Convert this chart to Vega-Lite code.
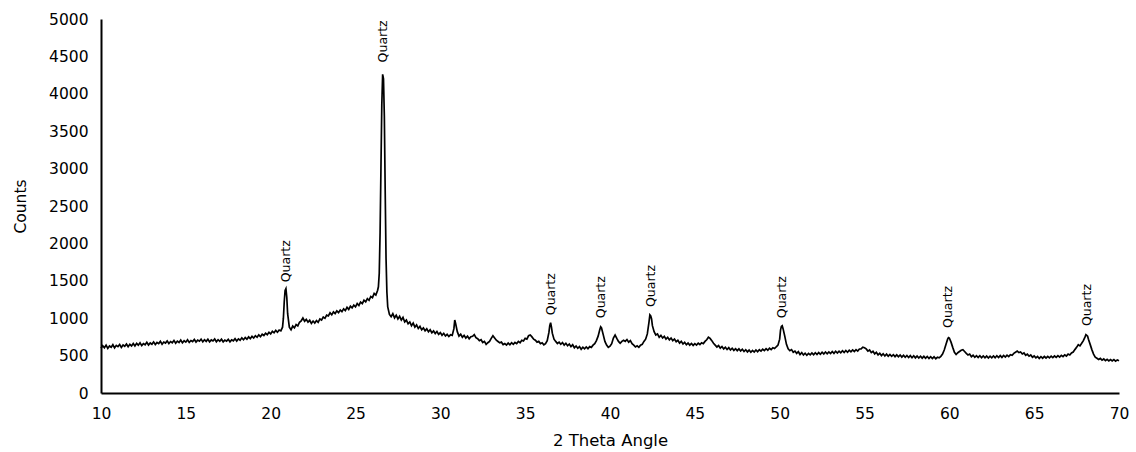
{
"$schema":"https://vega.github.io/schema/vega-lite/v6.json",
"width":1018,"height":374,
"autosize":{"type":"none"},
"padding":{"left":101,"top":19,"right":17,"bottom":59},
"background":"white",
"config":{"view":{"stroke":null},"font":"DejaVu Sans",
"axis":{"labelOverlap":false,"format":"d","grid":false,"ticks":false,"domainColor":"black","domainWidth":2,"labelFont":"DejaVu Sans","labelFontSize":15.5,"labelColor":"black","labelPadding":13,"titleFont":"DejaVu Sans","titleFontWeight":"normal","titleColor":"black","labelFlush":false},
"axisX":{"titleFontSize":16.5,"titlePadding":11},
"axisY":{"titleFontSize":15.5,"titlePadding":20}},
"datasets":{
"xrd":[
{"t":10.0,"c":598},{"t":10.1,"c":632},{"t":10.2,"c":605},{"t":10.3,"c":640},{"t":10.4,"c":596},{"t":10.5,"c":628},{"t":10.6,"c":611},{"t":10.7,"c":645},{"t":10.8,"c":603},{"t":10.9,"c":637},
{"t":11.0,"c":620},{"t":11.1,"c":648},{"t":11.2,"c":609},{"t":11.3,"c":641},{"t":11.4,"c":625},{"t":11.5,"c":655},{"t":11.6,"c":618},{"t":11.7,"c":650},{"t":11.8,"c":630},{"t":11.9,"c":662},
{"t":12.0,"c":628},{"t":12.1,"c":664},{"t":12.2,"c":640},{"t":12.3,"c":671},{"t":12.4,"c":633},{"t":12.5,"c":660},{"t":12.6,"c":645},{"t":12.7,"c":678},{"t":12.8,"c":641},{"t":12.9,"c":669},
{"t":13.0,"c":652},{"t":13.1,"c":683},{"t":13.2,"c":648},{"t":13.3,"c":676},{"t":13.4,"c":660},{"t":13.5,"c":690},{"t":13.6,"c":652},{"t":13.7,"c":681},{"t":13.8,"c":668},{"t":13.9,"c":697},
{"t":14.0,"c":662},{"t":14.1,"c":688},{"t":14.2,"c":672},{"t":14.3,"c":703},{"t":14.4,"c":665},{"t":14.5,"c":694},{"t":14.6,"c":676},{"t":14.7,"c":708},{"t":14.8,"c":670},{"t":14.9,"c":698},
{"t":15.0,"c":680},{"t":15.1,"c":711},{"t":15.2,"c":676},{"t":15.3,"c":702},{"t":15.4,"c":688},{"t":15.5,"c":716},{"t":15.6,"c":681},{"t":15.7,"c":707},{"t":15.8,"c":692},{"t":15.9,"c":720},
{"t":16.0,"c":684},{"t":16.1,"c":712},{"t":16.2,"c":690},{"t":16.3,"c":718},{"t":16.4,"c":683},{"t":16.5,"c":709},{"t":16.6,"c":695},{"t":16.7,"c":722},{"t":16.8,"c":686},{"t":16.9,"c":713},
{"t":17.0,"c":691},{"t":17.1,"c":719},{"t":17.2,"c":684},{"t":17.3,"c":708},{"t":17.4,"c":693},{"t":17.5,"c":717},{"t":17.6,"c":685},{"t":17.7,"c":711},{"t":17.8,"c":698},{"t":17.9,"c":726},
{"t":18.0,"c":695},{"t":18.1,"c":724},{"t":18.2,"c":706},{"t":18.3,"c":737},{"t":18.4,"c":712},{"t":18.5,"c":741},{"t":18.6,"c":719},{"t":18.7,"c":750},{"t":18.8,"c":726},{"t":18.9,"c":758},
{"t":19.0,"c":735},{"t":19.1,"c":766},{"t":19.2,"c":745},{"t":19.3,"c":777},{"t":19.4,"c":752},{"t":19.5,"c":785},{"t":19.6,"c":768},{"t":19.7,"c":800},{"t":19.8,"c":779},{"t":19.9,"c":812},
{"t":20.0,"c":790},{"t":20.1,"c":824},{"t":20.2,"c":805},{"t":20.3,"c":838},{"t":20.4,"c":812},{"t":20.5,"c":841},{"t":20.6,"c":830},{"t":20.7,"c":880},{"t":20.75,"c":1000},{"t":20.8,"c":1220},{"t":20.85,"c":1370},{"t":20.9,"c":1395},{"t":20.95,"c":1280},
{"t":21.0,"c":1060},{"t":21.1,"c":880},{"t":21.2,"c":845},{"t":21.3,"c":895},{"t":21.4,"c":872},{"t":21.5,"c":915},{"t":21.6,"c":898},{"t":21.7,"c":946},{"t":21.8,"c":965},{"t":21.9,"c":1002},
{"t":22.0,"c":960},{"t":22.1,"c":985},{"t":22.2,"c":948},{"t":22.3,"c":972},{"t":22.4,"c":930},{"t":22.5,"c":962},{"t":22.6,"c":935},{"t":22.7,"c":968},{"t":22.8,"c":945},{"t":22.9,"c":990},
{"t":23.0,"c":975},{"t":23.1,"c":1015},{"t":23.2,"c":998},{"t":23.3,"c":1040},{"t":23.4,"c":1030},{"t":23.5,"c":1072},{"t":23.6,"c":1045},{"t":23.7,"c":1085},{"t":23.8,"c":1062},{"t":23.9,"c":1098},
{"t":24.0,"c":1075},{"t":24.1,"c":1110},{"t":24.2,"c":1088},{"t":24.3,"c":1125},{"t":24.4,"c":1102},{"t":24.5,"c":1145},{"t":24.6,"c":1118},{"t":24.7,"c":1160},{"t":24.8,"c":1138},{"t":24.9,"c":1175},
{"t":25.0,"c":1152},{"t":25.1,"c":1196},{"t":25.2,"c":1170},{"t":25.3,"c":1215},{"t":25.4,"c":1195},{"t":25.5,"c":1240},{"t":25.6,"c":1218},{"t":25.7,"c":1262},{"t":25.8,"c":1240},{"t":25.9,"c":1290},
{"t":26.0,"c":1275},{"t":26.1,"c":1330},{"t":26.2,"c":1310},{"t":26.3,"c":1370},{"t":26.35,"c":1420},{"t":26.4,"c":1600},{"t":26.45,"c":2150},{"t":26.5,"c":3000},{"t":26.55,"c":3850},{"t":26.6,"c":4260},{"t":26.65,"c":4200},{"t":26.7,"c":3700},{"t":26.75,"c":2700},{"t":26.8,"c":1800},{"t":26.85,"c":1350},{"t":26.9,"c":1150},
{"t":27.0,"c":1050},{"t":27.1,"c":1020},{"t":27.2,"c":1060},{"t":27.3,"c":1005},{"t":27.4,"c":1040},{"t":27.5,"c":990},{"t":27.6,"c":1025},{"t":27.7,"c":975},{"t":27.8,"c":1010},{"t":27.9,"c":950},
{"t":28.0,"c":975},{"t":28.1,"c":925},{"t":28.2,"c":950},{"t":28.3,"c":900},{"t":28.4,"c":935},{"t":28.5,"c":880},{"t":28.6,"c":910},{"t":28.7,"c":862},{"t":28.8,"c":890},{"t":28.9,"c":845},
{"t":29.0,"c":870},{"t":29.1,"c":832},{"t":29.2,"c":858},{"t":29.3,"c":818},{"t":29.4,"c":845},{"t":29.5,"c":805},{"t":29.6,"c":830},{"t":29.7,"c":795},{"t":29.8,"c":822},{"t":29.9,"c":784},
{"t":30.0,"c":808},{"t":30.1,"c":772},{"t":30.2,"c":798},{"t":30.3,"c":762},{"t":30.4,"c":785},{"t":30.5,"c":755},{"t":30.6,"c":778},{"t":30.7,"c":770},{"t":30.8,"c":860},{"t":30.85,"c":975},{"t":30.9,"c":930},
{"t":31.0,"c":820},{"t":31.1,"c":760},{"t":31.2,"c":785},{"t":31.3,"c":745},{"t":31.4,"c":770},{"t":31.5,"c":735},{"t":31.6,"c":760},{"t":31.7,"c":725},{"t":31.8,"c":752},{"t":31.9,"c":758},
{"t":32.0,"c":780},{"t":32.1,"c":740},{"t":32.2,"c":725},{"t":32.3,"c":700},{"t":32.4,"c":712},{"t":32.5,"c":675},{"t":32.6,"c":690},{"t":32.7,"c":650},{"t":32.8,"c":672},{"t":32.9,"c":690},
{"t":33.0,"c":730},{"t":33.1,"c":765},{"t":33.2,"c":735},{"t":33.3,"c":705},{"t":33.4,"c":688},{"t":33.5,"c":670},{"t":33.6,"c":680},{"t":33.7,"c":648},{"t":33.8,"c":660},{"t":33.9,"c":640},
{"t":34.0,"c":668},{"t":34.1,"c":645},{"t":34.2,"c":672},{"t":34.3,"c":650},{"t":34.4,"c":676},{"t":34.5,"c":660},{"t":34.6,"c":690},{"t":34.7,"c":672},{"t":34.8,"c":705},{"t":34.9,"c":695},
{"t":35.0,"c":730},{"t":35.1,"c":720},{"t":35.2,"c":765},{"t":35.3,"c":775},{"t":35.4,"c":750},{"t":35.5,"c":720},{"t":35.6,"c":705},{"t":35.7,"c":680},{"t":35.8,"c":690},{"t":35.9,"c":660},
{"t":36.0,"c":672},{"t":36.1,"c":645},{"t":36.2,"c":660},{"t":36.3,"c":700},{"t":36.4,"c":810},{"t":36.45,"c":900},{"t":36.5,"c":940},{"t":36.55,"c":880},{"t":36.6,"c":800},{"t":36.7,"c":720},{"t":36.8,"c":690},{"t":36.9,"c":662},
{"t":37.0,"c":680},{"t":37.1,"c":652},{"t":37.2,"c":675},{"t":37.3,"c":640},{"t":37.4,"c":665},{"t":37.5,"c":632},{"t":37.6,"c":655},{"t":37.7,"c":620},{"t":37.8,"c":645},{"t":37.9,"c":605},
{"t":38.0,"c":628},{"t":38.1,"c":598},{"t":38.2,"c":620},{"t":38.3,"c":585},{"t":38.4,"c":612},{"t":38.5,"c":590},{"t":38.6,"c":615},{"t":38.7,"c":592},{"t":38.8,"c":620},{"t":38.9,"c":610},
{"t":39.0,"c":640},{"t":39.1,"c":660},{"t":39.2,"c":700},{"t":39.3,"c":760},{"t":39.4,"c":850},{"t":39.45,"c":885},{"t":39.5,"c":870},{"t":39.6,"c":780},{"t":39.7,"c":690},{"t":39.8,"c":640},{"t":39.9,"c":610},
{"t":40.0,"c":625},{"t":40.1,"c":660},{"t":40.2,"c":735},{"t":40.3,"c":775},{"t":40.4,"c":730},{"t":40.5,"c":690},{"t":40.6,"c":665},{"t":40.7,"c":690},{"t":40.8,"c":705},{"t":40.9,"c":690},
{"t":41.0,"c":715},{"t":41.1,"c":680},{"t":41.2,"c":700},{"t":41.3,"c":660},{"t":41.4,"c":640},{"t":41.5,"c":615},{"t":41.6,"c":630},{"t":41.7,"c":610},{"t":41.8,"c":640},{"t":41.9,"c":650},
{"t":42.0,"c":690},{"t":42.1,"c":720},{"t":42.2,"c":790},{"t":42.3,"c":950},{"t":42.35,"c":1045},{"t":42.4,"c":1030},{"t":42.45,"c":990},{"t":42.5,"c":900},{"t":42.6,"c":820},{"t":42.7,"c":775},{"t":42.8,"c":790},{"t":42.9,"c":745},
{"t":43.0,"c":770},{"t":43.1,"c":735},{"t":43.2,"c":758},{"t":43.3,"c":720},{"t":43.4,"c":745},{"t":43.5,"c":710},{"t":43.6,"c":735},{"t":43.7,"c":700},{"t":43.8,"c":722},{"t":43.9,"c":685},
{"t":44.0,"c":705},{"t":44.1,"c":668},{"t":44.2,"c":690},{"t":44.3,"c":655},{"t":44.4,"c":678},{"t":44.5,"c":645},{"t":44.6,"c":668},{"t":44.7,"c":640},{"t":44.8,"c":662},{"t":44.9,"c":636},
{"t":45.0,"c":660},{"t":45.1,"c":640},{"t":45.2,"c":665},{"t":45.3,"c":648},{"t":45.4,"c":672},{"t":45.5,"c":660},{"t":45.6,"c":690},{"t":45.7,"c":712},{"t":45.8,"c":745},{"t":45.9,"c":730},
{"t":46.0,"c":700},{"t":46.1,"c":665},{"t":46.2,"c":640},{"t":46.3,"c":615},{"t":46.4,"c":635},{"t":46.5,"c":600},{"t":46.6,"c":622},{"t":46.7,"c":590},{"t":46.8,"c":612},{"t":46.9,"c":582},
{"t":47.0,"c":606},{"t":47.1,"c":575},{"t":47.2,"c":598},{"t":47.3,"c":570},{"t":47.4,"c":593},{"t":47.5,"c":566},{"t":47.6,"c":590},{"t":47.7,"c":562},{"t":47.8,"c":585},{"t":47.9,"c":555},
{"t":48.0,"c":578},{"t":48.1,"c":550},{"t":48.2,"c":574},{"t":48.3,"c":545},{"t":48.4,"c":570},{"t":48.5,"c":548},{"t":48.6,"c":575},{"t":48.7,"c":552},{"t":48.8,"c":578},{"t":48.9,"c":560},
{"t":49.0,"c":585},{"t":49.1,"c":566},{"t":49.2,"c":592},{"t":49.3,"c":572},{"t":49.4,"c":598},{"t":49.5,"c":580},{"t":49.6,"c":605},{"t":49.7,"c":595},{"t":49.8,"c":618},{"t":49.9,"c":640},
{"t":50.0,"c":720},{"t":50.05,"c":840},{"t":50.1,"c":890},{"t":50.15,"c":900},{"t":50.2,"c":860},{"t":50.3,"c":760},{"t":50.4,"c":650},{"t":50.5,"c":590},{"t":50.6,"c":565},{"t":50.7,"c":580},{"t":50.8,"c":545},{"t":50.9,"c":560},
{"t":51.0,"c":530},{"t":51.1,"c":552},{"t":51.2,"c":515},{"t":51.3,"c":540},{"t":51.4,"c":508},{"t":51.5,"c":532},{"t":51.6,"c":505},{"t":51.7,"c":530},{"t":51.8,"c":510},{"t":51.9,"c":535},
{"t":52.0,"c":512},{"t":52.1,"c":538},{"t":52.2,"c":515},{"t":52.3,"c":541},{"t":52.4,"c":518},{"t":52.5,"c":545},{"t":52.6,"c":522},{"t":52.7,"c":548},{"t":52.8,"c":525},{"t":52.9,"c":550},
{"t":53.0,"c":528},{"t":53.1,"c":555},{"t":53.2,"c":530},{"t":53.3,"c":558},{"t":53.4,"c":535},{"t":53.5,"c":560},{"t":53.6,"c":538},{"t":53.7,"c":565},{"t":53.8,"c":542},{"t":53.9,"c":568},
{"t":54.0,"c":545},{"t":54.1,"c":572},{"t":54.2,"c":550},{"t":54.3,"c":576},{"t":54.4,"c":555},{"t":54.5,"c":580},{"t":54.6,"c":560},{"t":54.7,"c":588},{"t":54.8,"c":590},{"t":54.9,"c":612},
{"t":55.0,"c":605},{"t":55.1,"c":590},{"t":55.2,"c":560},{"t":55.3,"c":575},{"t":55.4,"c":540},{"t":55.5,"c":558},{"t":55.6,"c":522},{"t":55.7,"c":545},{"t":55.8,"c":510},{"t":55.9,"c":532},
{"t":56.0,"c":500},{"t":56.1,"c":525},{"t":56.2,"c":495},{"t":56.3,"c":520},{"t":56.4,"c":492},{"t":56.5,"c":515},{"t":56.6,"c":490},{"t":56.7,"c":512},{"t":56.8,"c":486},{"t":56.9,"c":510},
{"t":57.0,"c":484},{"t":57.1,"c":508},{"t":57.2,"c":480},{"t":57.3,"c":505},{"t":57.4,"c":478},{"t":57.5,"c":502},{"t":57.6,"c":475},{"t":57.7,"c":500},{"t":57.8,"c":472},{"t":57.9,"c":498},
{"t":58.0,"c":470},{"t":58.1,"c":495},{"t":58.2,"c":468},{"t":58.3,"c":492},{"t":58.4,"c":466},{"t":58.5,"c":490},{"t":58.6,"c":465},{"t":58.7,"c":488},{"t":58.8,"c":462},{"t":58.9,"c":486},
{"t":59.0,"c":460},{"t":59.1,"c":484},{"t":59.2,"c":458},{"t":59.3,"c":478},{"t":59.4,"c":470},{"t":59.5,"c":490},{"t":59.6,"c":520},{"t":59.7,"c":575},{"t":59.8,"c":650},{"t":59.9,"c":720},{"t":59.95,"c":740},
{"t":60.0,"c":735},{"t":60.1,"c":680},{"t":60.2,"c":610},{"t":60.3,"c":545},{"t":60.4,"c":515},{"t":60.5,"c":538},{"t":60.6,"c":555},{"t":60.7,"c":572},{"t":60.8,"c":580},{"t":60.9,"c":555},
{"t":61.0,"c":530},{"t":61.1,"c":508},{"t":61.2,"c":520},{"t":61.3,"c":486},{"t":61.4,"c":505},{"t":61.5,"c":478},{"t":61.6,"c":500},{"t":61.7,"c":475},{"t":61.8,"c":498},{"t":61.9,"c":472},
{"t":62.0,"c":495},{"t":62.1,"c":470},{"t":62.2,"c":494},{"t":62.3,"c":468},{"t":62.4,"c":492},{"t":62.5,"c":470},{"t":62.6,"c":496},{"t":62.7,"c":472},{"t":62.8,"c":498},{"t":62.9,"c":474},
{"t":63.0,"c":500},{"t":63.1,"c":476},{"t":63.2,"c":502},{"t":63.3,"c":480},{"t":63.4,"c":506},{"t":63.5,"c":486},{"t":63.6,"c":512},{"t":63.7,"c":505},{"t":63.8,"c":530},{"t":63.9,"c":545},
{"t":64.0,"c":560},{"t":64.1,"c":540},{"t":64.2,"c":548},{"t":64.3,"c":522},{"t":64.4,"c":535},{"t":64.5,"c":505},{"t":64.6,"c":520},{"t":64.7,"c":492},{"t":64.8,"c":508},{"t":64.9,"c":478},
{"t":65.0,"c":495},{"t":65.1,"c":470},{"t":65.2,"c":488},{"t":65.3,"c":462},{"t":65.4,"c":485},{"t":65.5,"c":465},{"t":65.6,"c":488},{"t":65.7,"c":468},{"t":65.8,"c":490},{"t":65.9,"c":470},
{"t":66.0,"c":492},{"t":66.1,"c":472},{"t":66.2,"c":495},{"t":66.3,"c":476},{"t":66.4,"c":500},{"t":66.5,"c":480},{"t":66.6,"c":504},{"t":66.7,"c":486},{"t":66.8,"c":510},{"t":66.9,"c":494},
{"t":67.0,"c":520},{"t":67.1,"c":508},{"t":67.2,"c":535},{"t":67.3,"c":548},{"t":67.4,"c":580},{"t":67.5,"c":610},{"t":67.6,"c":645},{"t":67.7,"c":630},{"t":67.8,"c":665},{"t":67.9,"c":700},
{"t":68.0,"c":750},{"t":68.05,"c":780},{"t":68.1,"c":770},{"t":68.15,"c":760},{"t":68.2,"c":720},{"t":68.3,"c":650},{"t":68.4,"c":580},{"t":68.5,"c":520},{"t":68.6,"c":480},{"t":68.7,"c":465},{"t":68.8,"c":448},{"t":68.9,"c":462},
{"t":69.0,"c":440},{"t":69.1,"c":455},{"t":69.2,"c":432},{"t":69.3,"c":450},{"t":69.4,"c":430},{"t":69.5,"c":448},{"t":69.6,"c":428},{"t":69.7,"c":446},{"t":69.8,"c":425},{"t":69.9,"c":442},{"t":70.0,"c":430}
],
"labels":[
{"t":20.9,"c":1480,"txt":"Quartz"},
{"t":26.6,"c":4420,"txt":"Quartz"},
{"t":36.5,"c":1040,"txt":"Quartz"},
{"t":39.45,"c":1000,"txt":"Quartz"},
{"t":42.4,"c":1150,"txt":"Quartz"},
{"t":50.15,"c":1000,"txt":"Quartz"},
{"t":59.95,"c":870,"txt":"Quartz"},
{"t":68.1,"c":895,"txt":"Quartz"}
]
},
"layer":[
{"data":{"name":"xrd"},
"mark":{"type":"line","color":"black","strokeWidth":1.7,"interpolate":"linear"},
"encoding":{
"x":{"field":"t","type":"quantitative","scale":{"domain":[10,70],"nice":false,"zero":false},
"axis":{"title":"2 Theta Angle","values":[10,15,20,25,30,35,40,45,50,55,60,65,70],"labelOverlap":false}},
"y":{"field":"c","type":"quantitative","scale":{"domain":[0,5000],"nice":false},
"axis":{"title":"Counts","values":[0,500,1000,1500,2000,2500,3000,3500,4000,4500,5000],"labelOverlap":false}}
}},
{"data":{"name":"labels"},
"mark":{"type":"text","angle":270,"align":"left","baseline":"middle","font":"DejaVu Sans","fontSize":12.5,"color":"black"},
"encoding":{
"x":{"field":"t","type":"quantitative","axis":{"title":"2 Theta Angle","values":[10,15,20,25,30,35,40,45,50,55,60,65,70],"labelOverlap":false}},
"y":{"field":"c","type":"quantitative","axis":{"title":"Counts","values":[0,500,1000,1500,2000,2500,3000,3500,4000,4500,5000],"labelOverlap":false}},
"text":{"field":"txt"}
}}
]
}
